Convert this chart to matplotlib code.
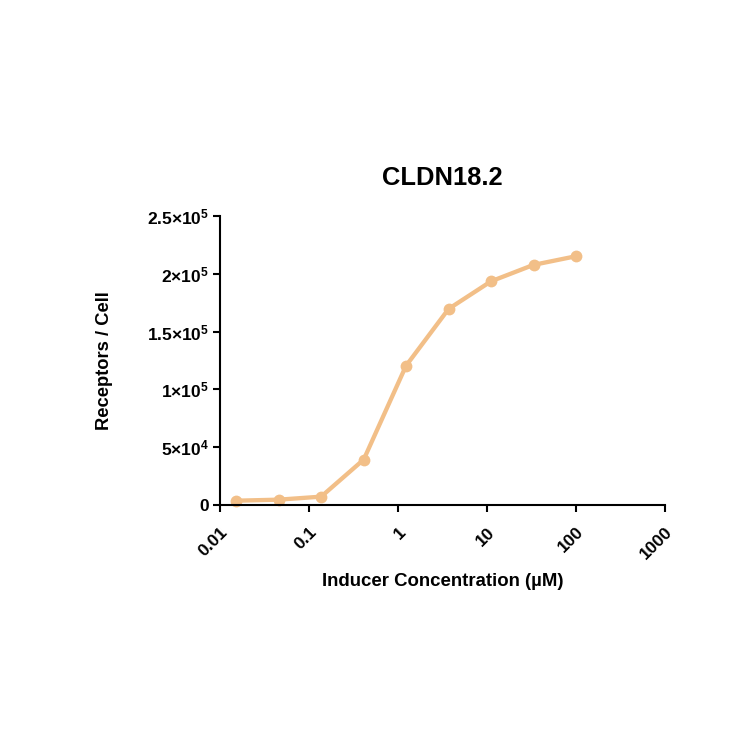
import matplotlib
matplotlib.use('Agg')
import matplotlib.pyplot as plt
import numpy as np

plt.rcParams['font.family'] = ['Liberation Sans', 'DejaVu Sans']
plt.rcParams['mathtext.default'] = 'regular'

concentrations = [0.0152, 0.0457, 0.137, 0.412, 1.23, 3.70, 11.1, 33.3, 100.0]
receptors = [3700, 4600, 7200, 39300, 120400, 169600, 193500, 207700, 215200]

y_ticks = [0, 50000, 100000, 150000, 200000, 250000]
y_tick_labels = ['0', '5×10$^{4}$', '1×10$^{5}$', '1.5×10$^{5}$', '2×10$^{5}$', '2.5×10$^{5}$']
x_ticks = [0.01, 0.1, 1, 10, 100, 1000]
x_tick_labels = ['0.01', '0.1', '1', '10', '100', '1000']

color = '#F2BF88'

fig = plt.figure(figsize=(7.5, 7.5), dpi=100)
ax = fig.add_axes([0.2933, 0.3267, 0.5934, 0.3853])
ax.plot(concentrations, receptors, color=color, lw=3.1, marker='o', ms=8.5,
        markeredgewidth=0, solid_capstyle='round', clip_on=False)
ax.set_xscale('log')
ax.set_xlim(0.01, 1000)
ax.set_ylim(0, 250000)
ax.minorticks_off()
ax.set_xticks(x_ticks)
ax.set_xticklabels(x_tick_labels, rotation=45, ha='right', rotation_mode='anchor',
                   fontsize=12.5, fontweight='bold')
ax.set_yticks(y_ticks)
ax.set_yticklabels(y_tick_labels, fontsize=12.5, fontweight='bold')
for s in ['top', 'right']:
    ax.spines[s].set_visible(False)
for s in ['left', 'bottom']:
    ax.spines[s].set_linewidth(1.5)
ax.tick_params(axis='both', width=1.5, length=5, color='black')
ax.tick_params(axis='y', pad=3)
ax.tick_params(axis='x', pad=9)
ax.set_xlabel('Inducer Concentration (µM)', fontsize=13.4, fontweight='bold', labelpad=8)
ax.set_ylabel('Receptors / Cell', fontsize=13.2, fontweight='bold', labelpad=24)
ax.set_title('CLDN18.2', fontsize=18.4, fontweight='bold', pad=22)

fig.savefig('out.png', dpi=100)
